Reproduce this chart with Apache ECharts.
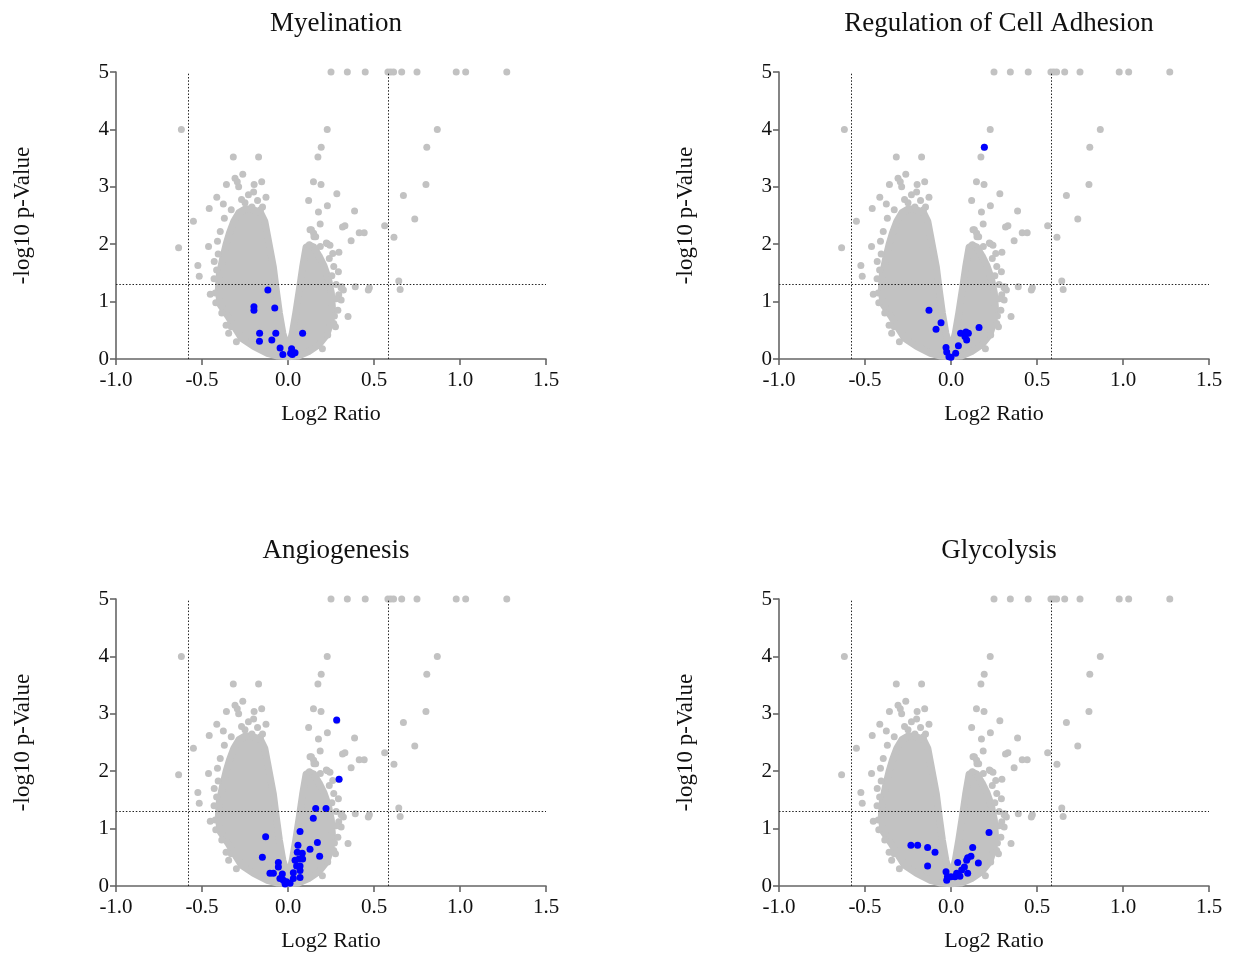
<!DOCTYPE html>
<html>
<head>
<meta charset="utf-8">
<script src="https://cdn.jsdelivr.net/npm/echarts@6/dist/echarts.min.js"></script>
<style>
  html, body { margin: 0; padding: 0; background: #ffffff; }
  #chart { width: 1238px; height: 957px; }
</style>
</head>
<body>
<div id="chart"></div>
<script>
// ---- Panel titles and axis ticks ----
const panelTitles = ['Myelination', 'Regulation of Cell Adhesion', 'Angiogenesis', 'Glycolysis'];
const xTickLabels = ['-1.0', '-0.5', '0.0', '0.5', '1.0', '1.5'];
const yTickLabels = ['0', '1', '2', '3', '4', '5'];

// ---- Significance cut-offs ----
const foldCut = 0.585;   // log2(1.5)
const pCut = 1.301;      // -log10(0.05)

// ---- Dense body of all quantified proteins (outline, log2 ratio / -log10 p) ----
const cloudX = [0.000, -0.030, -0.050, -0.068, -0.085, -0.110, -0.135, -0.160, -0.200, -0.245,
                -0.285, -0.315, -0.340, -0.360, -0.380, -0.400, -0.405, -0.395, -0.350, -0.310,
                -0.270, -0.200, -0.120, -0.060, 0.000, 0.060, 0.120, 0.180, 0.225, 0.250,
                0.258, 0.252, 0.235, 0.210, 0.180, 0.150, 0.125, 0.105, 0.085, 0.068,
                0.045, 0.025];
const cloudY = [0.15, 0.45, 0.80, 1.20, 1.60, 2.00, 2.40, 2.55, 2.60, 2.62,
                2.55, 2.40, 2.20, 2.00, 1.75, 1.45, 1.20, 0.95, 0.75, 0.55,
                0.36, 0.22, 0.10, 0.05, 0.04, 0.05, 0.13, 0.25, 0.42, 0.65,
                0.90, 1.15, 1.40, 1.62, 1.80, 1.95, 1.98, 1.95, 1.60, 1.25,
                0.80, 0.45];

// ---- Individual proteins outside the dense body ----
const grayX = [0.250, 0.345, 0.449, 0.581, 0.597, 0.614, 0.661, 0.750, 0.978, 1.033, 1.272,
               -0.620, 0.228, 0.868, 0.193, 0.807, -0.318, -0.171, 0.174,
               -0.263, -0.308, -0.295, -0.153, 0.148, -0.358, -0.197, 0.192, 0.802, -0.287,
               -0.200, 0.284, 0.671, -0.414, -0.128, -0.177, 0.120, -0.376, 0.229, -0.458,
               0.387, 0.177, 0.737, -0.550, 0.187, 0.562, 0.331, 0.317, 0.128, 0.414, 0.443,
               0.151, 0.616, 0.367, 0.229, 0.244, -0.636, 0.296, -0.524, 0.293, -0.516,
               0.644, 0.312, 0.391, 0.473, 0.652, 0.322, 0.467, -0.452, 0.349,
               -0.462, -0.394, -0.429, -0.406, -0.423, -0.430, -0.360, -0.330, -0.370, -0.330,
               -0.250, -0.210, -0.160, -0.148, -0.270, -0.230,
               0.124, 0.188, 0.223, 0.260, 0.266, 0.309, 0.295, 0.309, 0.266, 0.276, 0.231,
               0.149, 0.136, 0.161, 0.240, 0.280, 0.290,
               -0.415, -0.420, -0.385, -0.345, -0.300, -0.410, 0.270, 0.280, 0.255, 0.200];
const grayY = [5, 5, 5, 5, 5, 5, 5, 5, 5, 5, 5,
               4.00, 4.00, 4.00, 3.69, 3.69, 3.52, 3.52, 3.52,
               3.22, 3.15, 3.09, 3.09, 3.09, 3.04, 3.04, 3.04, 3.04, 3.00,
               2.91, 2.88, 2.85, 2.82, 2.82, 2.76, 2.76, 2.70, 2.67, 2.62,
               2.58, 2.56, 2.44, 2.40, 2.35, 2.32, 2.32, 2.30, 2.25, 2.20, 2.20,
               2.13, 2.12, 2.06, 2.01, 1.98, 1.94, 1.86, 1.63, 1.52, 1.44,
               1.36, 1.26, 1.26, 1.24, 1.21, 1.20, 1.20, 1.13, 0.74,
               1.96, 2.22, 1.70, 1.83, 1.15, 1.40, 0.59, 0.56, 2.45, 2.60,
               2.72, 2.65, 2.60, 2.65, 2.78, 2.86,
               1.99, 1.96, 2.02, 1.84, 1.61, 1.24, 1.12, 1.03, 0.62, 0.56, 0.42,
               2.19, 2.25, 2.13, 1.75, 1.30, 0.85,
               1.55, 0.98, 0.80, 0.45, 0.30, 2.05, 0.75, 1.05, 1.45, 0.18];

// ---- Proteins annotated to each process ----
const myelinationX = [-0.117, -0.198, -0.198, -0.077, -0.165, -0.071, -0.166, -0.094, 0.085, -0.046, -0.030, 0.021, 0.015, 0.041, 0.025];
const myelinationY = [1.20, 0.91, 0.85, 0.89, 0.45, 0.45, 0.31, 0.33, 0.45, 0.19, 0.08, 0.18, 0.10, 0.11, 0.08];

const adhesionX = [0.194, -0.128, -0.058, -0.087, 0.163, 0.056, 0.087, 0.101, 0.081, 0.091, 0.043, 0.027, -0.029, -0.025, -0.012, 0.000];
const adhesionY = [3.69, 0.85, 0.63, 0.52, 0.55, 0.45, 0.47, 0.45, 0.39, 0.33, 0.23, 0.10, 0.20, 0.12, 0.04, 0.03];

const angiogenesisX = [0.283, 0.297, 0.161, 0.221, 0.147, -0.130, 0.070, -0.149, 0.058, 0.128, 0.171, 0.184,
                       0.054, 0.083, 0.064, 0.041, 0.085, 0.070, 0.050, 0.070, 0.031, 0.070,
                       -0.056, -0.056, -0.105, -0.085, -0.033, -0.047, -0.027, -0.008, 0.012, -0.017, 0.031];
const angiogenesisY = [2.89, 1.86, 1.35, 1.35, 1.18, 0.86, 0.95, 0.50, 0.71, 0.64, 0.76, 0.52,
                       0.59, 0.57, 0.47, 0.45, 0.47, 0.35, 0.35, 0.27, 0.23, 0.15,
                       0.41, 0.33, 0.22, 0.22, 0.21, 0.13, 0.10, 0.075, 0.047, 0.035, 0.13];

const glycolysisX = [0.221, -0.233, -0.194, -0.136, -0.093, -0.136, 0.126, 0.116, 0.097, 0.091, 0.159, 0.039,
                     0.078, 0.062, 0.097, 0.033, 0.052, 0.023, -0.029, -0.021, -0.025, 0.000];
const glycolysisY = [0.93, 0.71, 0.71, 0.67, 0.59, 0.35, 0.67, 0.52, 0.49, 0.45, 0.40, 0.41,
                     0.33, 0.28, 0.22, 0.22, 0.17, 0.16, 0.25, 0.16, 0.10, 0.16];

const highlightX = [myelinationX, adhesionX, angiogenesisX, glycolysisX];
const highlightY = [myelinationY, adhesionY, angiogenesisY, glycolysisY];

// ---- Styling ----
const FONT = 'Liberation Serif';
const GRAY = '#c2c2c2';
const BLUE = '#0000ff';
const AXIS = '#666666';
const DOT = 7;

const zip = (xs, ys) => xs.map((x, i) => [x, ys[i]]);

const gridPos = [
  { left: 116, top: 72 },
  { left: 779, top: 72 },
  { left: 116, top: 599 },
  { left: 779, top: 599 }
];
const GW = 430, GH = 287;

const grids = [], xAxes = [], yAxes = [], titles = [], series = [];

gridPos.forEach((g, i) => {
  grids.push({ left: g.left, top: g.top, width: GW, height: GH, containLabel: false });

  titles.push({
    text: panelTitles[i],
    left: g.left + GW / 2,
    top: g.top - 67,
    textAlign: 'center',
    textStyle: { fontFamily: FONT, fontSize: 27, fontWeight: 'normal', color: '#111' }
  });

  xAxes.push({
    type: 'value', gridIndex: i, min: -1, max: 1.5, interval: 0.5,
    name: 'Log2 Ratio', nameLocation: 'middle', nameGap: 44,
    nameTextStyle: { fontFamily: FONT, fontSize: 22, color: '#111' },
    axisLine: { onZero: false, lineStyle: { color: AXIS, width: 1.6 } },
    axisTick: { show: true, length: 6, lineStyle: { color: AXIS, width: 1.6 } },
    axisLabel: {
      fontFamily: FONT, fontSize: 21, color: '#111', margin: 11,
      formatter: v => xTickLabels[Math.round((v + 1) / 0.5)]
    },
    splitLine: { show: false }
  });

  yAxes.push({
    type: 'value', gridIndex: i, min: 0, max: 5, interval: 1,
    name: '-log10 p-Value', nameLocation: 'middle', nameGap: 82, nameRotate: 90,
    nameTextStyle: { fontFamily: FONT, fontSize: 23, color: '#111' },
    axisLine: { show: true, onZero: false, lineStyle: { color: AXIS, width: 1.6 } },
    axisTick: { show: true, length: 6, lineStyle: { color: AXIS, width: 1.6 } },
    axisLabel: {
      fontFamily: FONT, fontSize: 21, color: '#111', margin: 7,
      formatter: v => yTickLabels[Math.round(v)]
    },
    splitLine: { show: false }
  });

  // threshold lines
  series.push({
    type: 'scatter', xAxisIndex: i, yAxisIndex: i, data: [], z: 1, silent: true,
    markLine: {
      silent: true, symbol: ['none', 'none'], animation: false,
      label: { show: false },
      lineStyle: { color: '#222', width: 1, type: [1.5, 1.8] },
      data: [{ xAxis: -foldCut }, { xAxis: foldCut }, { yAxis: pCut }]
    }
  });

  // dense body of proteins
  series.push({
    type: 'custom', xAxisIndex: i, yAxisIndex: i, z: 2, silent: true,
    data: zip(cloudX, cloudY),
    encode: { x: 0, y: 1 },
    renderItem: (params, api) => {
      if (params.dataIndex !== 0) return null;
      const pts = cloudX.map((x, k) => api.coord([x, cloudY[k]]));
      return {
        type: 'polygon',
        shape: { points: pts },
        style: { fill: GRAY, stroke: GRAY, lineWidth: DOT, lineJoin: 'round' }
      };
    }
  });

  // individual proteins
  series.push({
    type: 'scatter', xAxisIndex: i, yAxisIndex: i, z: 3, silent: true,
    symbolSize: DOT, itemStyle: { color: GRAY, opacity: 1 },
    data: zip(grayX, grayY)
  });

  // highlighted proteins for this process
  series.push({
    type: 'scatter', xAxisIndex: i, yAxisIndex: i, z: 4, silent: true,
    symbolSize: DOT, itemStyle: { color: BLUE, opacity: 1 },
    data: zip(highlightX[i], highlightY[i])
  });
});

const chart = echarts.init(document.getElementById('chart'), null, { renderer: 'canvas' });
chart.setOption({
  backgroundColor: '#ffffff',
  animation: false,
  title: titles,
  grid: grids,
  xAxis: xAxes,
  yAxis: yAxes,
  series: series
});
</script>
</body>
</html>
